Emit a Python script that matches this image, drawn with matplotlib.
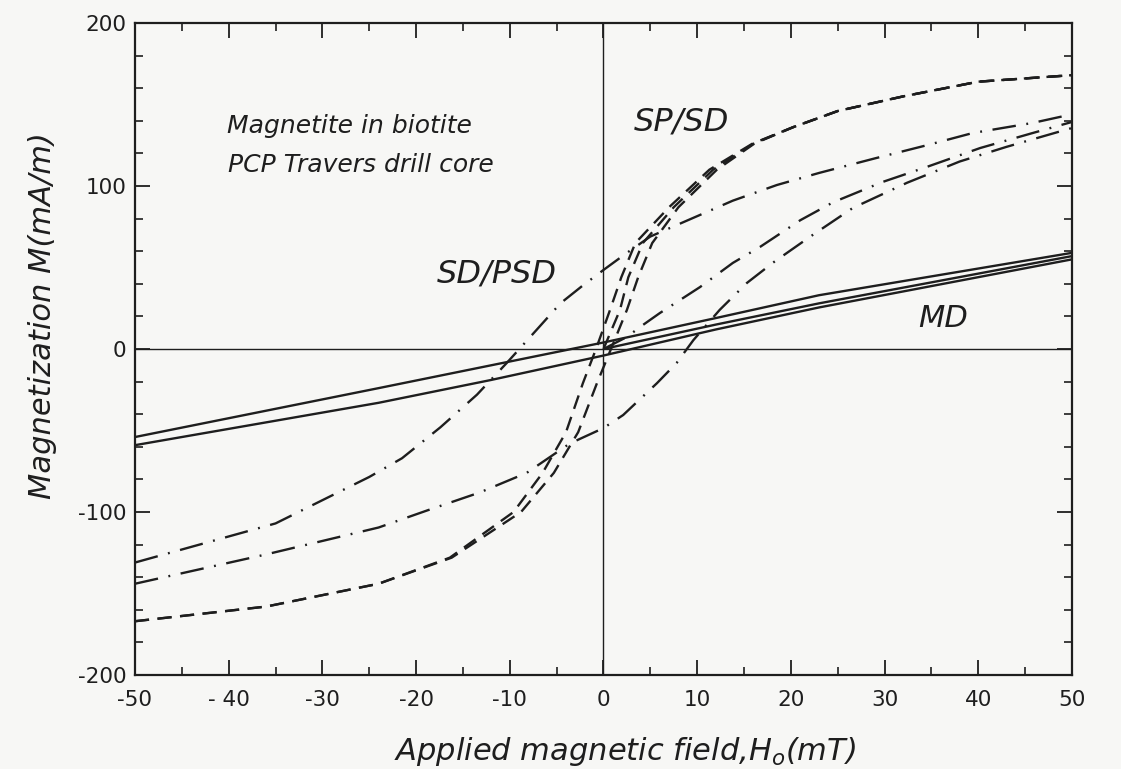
import matplotlib
matplotlib.use("Agg")
import matplotlib.pyplot as plt
from matplotlib.ticker import MultipleLocator, FixedLocator, FixedFormatter

plt.rcParams['font.family'] = ['DejaVu Sans']
plt.rcParams['mathtext.fontset'] = 'dejavusans'

# MD: thin loop + initial curve (solid)
md_desc_H = [-50, -24, -12, 0, 12, 23, 50]
md_desc_M = [-54, -24, -10, 4, 19, 33, 59]
md_asc_H = [-50, -24, -12, 0, 12, 23, 50]
md_asc_M = [-59, -33, -19, -4, 12, 25.5, 55]
md_init_H = [0, 12, 23, 50]
md_init_M = [0, 15, 28, 57]

# SP/SD (dashed)
sp_M = [-167, -158, -144, -128, -100, -76, -51, -21, 0, 24, 44, 65, 87, 110, 126, 136, 146, 155, 164, 168]
sp_desc_H = [-50, -36, -24, -16.4, -9.6, -6.5, -4.0, -2.2, -0.8, 0.7, 1.9, 3.4, 7.0, 11.3, 15.9, 20.2, 25, 32, 40, 50]
sp_asc_H = [-50, -36, -24, -16.2, -8.8, -5.3, -2.7, -0.7, 0.8, 2.5, 3.7, 5.2, 8.0, 12.1, 16.1, 20.2, 25, 32, 40, 50]
sp_init_M = [0, 24, 44, 65, 87, 110, 126, 136, 146, 155, 164, 168]
sp_init_H = [0, 1.76, 2.65, 4.2, 7.5, 11.7, 16, 20.2, 25, 32, 40, 50]

# SD/PSD (dash-dot)
psd_desc_H = [-50, -35, -25, -21.5, -17.4, -13.5, -10.3, -7.1, -4.6, -2.2, 0, 2.5, 5, 8.2, 13.8, 18.5, 23, 29, 34.5, 39.4, 45.8, 50]
psd_desc_M = [-131, -107, -78.5, -67, -48, -28, -8.4, 12, 28, 39, 48.5, 59, 69, 77, 91, 100.6, 108, 117, 125, 132.5, 138.7, 144]
psd_asc_H = [-50, -36, -24, -18.8, -13.2, -8.2, -3.6, 0, 2.1, 5.7, 7.8, 9.6, 12.4, 15.3, 18.1, 22, 26.6, 32.4, 38, 43, 50]
psd_asc_M = [-144, -126, -109.5, -99, -88, -76, -58, -48.5, -40.5, -21, -8.6, 5.5, 24, 40.5, 53, 68.7, 86.5, 102, 115, 124, 135.6]
psd_init_H = [0, 2.5, 3.9, 6.0, 10.3, 13.8, 16.7, 21, 24.5, 29.8, 34.5, 40.2, 45.8, 50]
psd_init_M = [0, 7.4, 13.5, 22, 38, 52.8, 62.6, 79, 90, 102.5, 111.7, 123.3, 132.5, 139.3]

x_ticks = [-50, -40, -30, -20, -10, 0, 10, 20, 30, 40, 50]
x_labels = ['-50', '- 40', '-30', '-20', '-10', '0', '10', '20', '30', '40', '50']
y_ticks = [-200, -100, 0, 100, 200]
y_labels = ['-200', '-100', '0', '100', '200']

ink = '#1e1e1e'
paper = '#f7f7f5'

fig = plt.figure(figsize=(11.21, 7.69), dpi=100, facecolor=paper)
ax = fig.add_axes([0.1204, 0.1222, 0.8359, 0.8479], facecolor=paper)

ax.axhline(0, color=ink, lw=1.0)
ax.axvline(0, color=ink, lw=1.0)

lw = 1.7
for H, M in [(md_desc_H, md_desc_M), (md_asc_H, md_asc_M), (md_init_H, md_init_M)]:
    ax.plot(H, M, color=ink, lw=lw, solid_capstyle='butt')

for H, M in [(sp_desc_H, sp_M), (sp_asc_H, sp_M), (sp_init_H, sp_init_M)]:
    ax.plot(H, M, color=ink, lw=lw, dashes=(6, 3.6))

for H, M in [(psd_desc_H, psd_desc_M), (psd_asc_H, psd_asc_M), (psd_init_H, psd_init_M)]:
    ax.plot(H, M, color=ink, lw=lw, dashes=(10, 4.5, 0.8, 4.5))

ax.set_xlim(-50, 50)
ax.set_ylim(-200, 200)
ax.xaxis.set_major_locator(FixedLocator(x_ticks))
ax.xaxis.set_major_formatter(FixedFormatter(x_labels))
ax.xaxis.set_minor_locator(MultipleLocator(5))
ax.yaxis.set_major_locator(FixedLocator(y_ticks))
ax.yaxis.set_major_formatter(FixedFormatter(y_labels))
ax.yaxis.set_minor_locator(MultipleLocator(20))

ax.tick_params(which='both', direction='in', top=True, right=True, color=ink)
ax.tick_params(which='major', length=11, width=1.3)
ax.tick_params(which='minor', length=6, width=1.2)
ax.tick_params(axis='x', which='major', pad=11, labelsize=15.5, labelcolor=ink)
ax.tick_params(axis='y', which='major', pad=6, labelsize=15.5, labelcolor=ink)
for s in ax.spines.values():
    s.set_linewidth(1.6)
    s.set_color(ink)

tkw = dict(color=ink, style='italic')
ax.text(-40.2, 132.5, 'Magnetite in biotite', fontsize=18, **tkw)
ax.text(-40.1, 108.6, 'PCP Travers drill core', fontsize=18, **tkw)
ax.text(3.2, 134, 'SP/SD', fontsize=23, **tkw)
ax.text(-17.8, 41, 'SD/PSD', fontsize=23, **tkw)
ax.text(33.6, 13.5, 'MD', fontsize=22, **tkw)

fig.text(625 / 1121, 1 - 752 / 769, 'Applied magnetic field,$H_o$(mT)', fontsize=22,
         ha='center', va='center', **tkw)
fig.text(43 / 1121, 1 - 316 / 769, 'Magnetization M(mA/m)', fontsize=22, rotation=90,
         ha='center', va='center', **tkw)

fig.savefig('out.png', dpi=100, facecolor=paper)
